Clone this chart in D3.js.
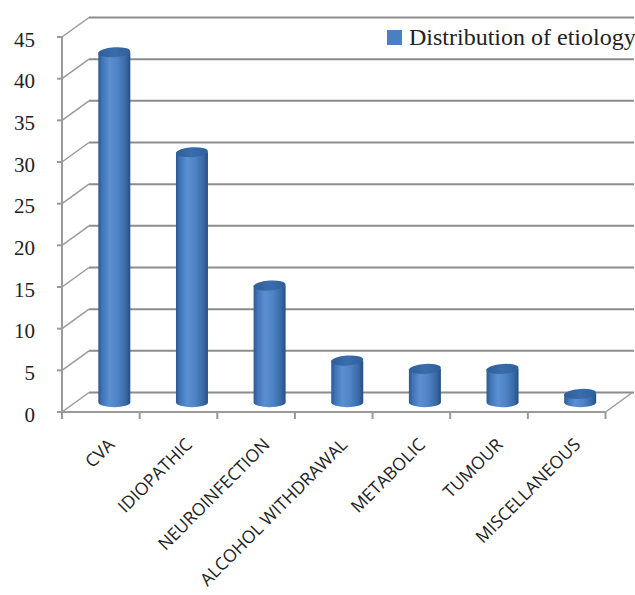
<!DOCTYPE html>
<html>
<head>
<meta charset="utf-8">
<script src="https://cdn.jsdelivr.net/npm/d3@7"></script>
<style>
  html, body { margin: 0; padding: 0; background: #fff; }
  svg { display: block; }
</style>
</head>
<body>
<svg id="chart" width="635" height="595"></svg>
<script>
// Etiology categories and case counts
const categories = ["CVA", "IDIOPATHIC", "NEUROINFECTION", "ALCOHOL WITHDRAWAL", "METABOLIC", "TUMOUR", "MISCELLANEOUS"];
const values = [42, 30, 14, 5, 4, 4, 1];
const yTicks = [0, 5, 10, 15, 20, 25, 30, 35, 40, 45];
const seriesName = "Distribution of etiology";

const svg = d3.select("#chart");

// Front plane of the 3D plot box and the depth offset of its back wall
const front = { left: 62, right: 605.5, bottom: 412, top: 37 };
const depth = { dx: 27, dy: -19.5 };

const x = d3.scaleBand().domain(categories).range([front.left, front.right]).padding(0);
const y = d3.scaleLinear().domain([0, 45]).range([front.bottom, front.top]);

const gridColor = "#8c8c8c";

// Side wall: diagonals from the value axis back to the rear wall
svg.append("g").selectAll("line").data(yTicks).join("line")
  .attr("x1", front.left).attr("y1", d => y(d))
  .attr("x2", front.left + depth.dx).attr("y2", d => y(d) + depth.dy)
  .attr("stroke", "#9a9a9a").attr("stroke-width", 1.5);

// Back wall gridlines
svg.append("g").selectAll("line").data(yTicks).join("line")
  .attr("x1", front.left + depth.dx).attr("y1", d => y(d) + depth.dy)
  .attr("x2", 634).attr("y2", d => y(d) + depth.dy)
  .attr("stroke", gridColor).attr("stroke-width", 2);

// Floor: front edge and right diagonal
svg.append("line")
  .attr("x1", front.left).attr("y1", y(0))
  .attr("x2", front.right).attr("y2", y(0))
  .attr("stroke", "#9a9a9a").attr("stroke-width", 2);
svg.append("line")
  .attr("x1", front.right).attr("y1", y(0))
  .attr("x2", front.right + depth.dx).attr("y2", y(0) + depth.dy)
  .attr("stroke", "#9a9a9a").attr("stroke-width", 1.5);

// Value axis line, ticks and labels
svg.append("line")
  .attr("x1", front.left).attr("y1", y(45))
  .attr("x2", front.left).attr("y2", y(0) + 7)
  .attr("stroke", "#9a9a9a").attr("stroke-width", 2);
svg.append("g").selectAll("line").data(yTicks).join("line")
  .attr("x1", front.left - 5).attr("x2", front.left)
  .attr("y1", d => y(d)).attr("y2", d => y(d))
  .attr("stroke", "#9a9a9a").attr("stroke-width", 2);
svg.append("g").selectAll("text").data(yTicks).join("text")
  .attr("x", 35).attr("y", d => y(d))
  .attr("dy", "0.46em")
  .attr("text-anchor", "end")
  .attr("font-family", "'Liberation Serif', 'Times New Roman', serif")
  .attr("font-size", 21)
  .attr("fill", "#222")
  .text(d => d);

// Category axis ticks at band boundaries
const bounds = categories.map(c => x(c)).concat([x(categories[categories.length - 1]) + x.bandwidth()]);
svg.append("g").selectAll("line").data(bounds).join("line")
  .attr("x1", d => d).attr("x2", d => d)
  .attr("y1", y(0)).attr("y2", y(0) + 7)
  .attr("stroke", "#9a9a9a").attr("stroke-width", 2);

// Category labels, rotated
svg.append("g").selectAll("text").data(categories).join("text")
  .attr("transform", d => `translate(${x(d) + x.bandwidth() / 2 + 6},${437}) rotate(-45)`)
  .attr("dy", "0.71em")
  .attr("text-anchor", "end")
  .attr("font-family", "'Open Sans', sans-serif")
  .attr("font-size", 17.5)
  .attr("fill", "#222")
  .text(d => d);

// Cylinder shading
const defs = svg.append("defs");
const body = defs.append("linearGradient").attr("id", "cylBody")
  .attr("x1", "0%").attr("x2", "100%").attr("y1", "0%").attr("y2", "0%");
[["0%", "#2c5890"], ["12%", "#3f74b6"], ["35%", "#5a90d2"], ["60%", "#4e83c5"], ["85%", "#3a6aa7"], ["100%", "#274f82"]]
  .forEach(([o, c]) => body.append("stop").attr("offset", o).attr("stop-color", c));
const cap = defs.append("linearGradient").attr("id", "cylTop")
  .attr("x1", "0%").attr("x2", "100%").attr("y1", "0%").attr("y2", "0%");
[["0%", "#2f5e98"], ["50%", "#3a6dac"], ["100%", "#305f99"]]
  .forEach(([o, c]) => cap.append("stop").attr("offset", o).attr("stop-color", c));

// Cylinders sit halfway into the depth of the plot box
const r = 16, ry = 5;
const bars = svg.append("g").selectAll("g").data(categories.map((c, i) => ({ c, v: values[i] }))).join("g")
  .attr("transform", d => `translate(${x(d.c) + x.bandwidth() / 2 + depth.dx / 2},${depth.dy / 2})`);

bars.append("path")
  .attr("d", d => {
    const yt = y(d.v), yb = y(0);
    return `M${-r},${yt} L${-r},${yb} A${r},${ry} 0 0 0 ${r},${yb} L${r},${yt} Z`;
  })
  .attr("fill", "url(#cylBody)");

bars.append("ellipse")
  .attr("cx", 0).attr("cy", d => y(d.v))
  .attr("rx", r).attr("ry", ry)
  .attr("transform", d => `rotate(-4, 0, ${y(d.v)})`)
  .attr("fill", "url(#cylTop)");

// Legend
const legend = svg.append("g");
legend.append("rect")
  .attr("x", 387).attr("y", 30).attr("width", 15).attr("height", 15)
  .attr("fill", "#4a7fc1");
legend.append("text")
  .attr("x", 409).attr("y", 45)
  .attr("font-family", "'Liberation Serif', 'Times New Roman', serif")
  .attr("font-size", 24)
  .attr("fill", "#222")
  .text(seriesName);
</script>
</body>
</html>
